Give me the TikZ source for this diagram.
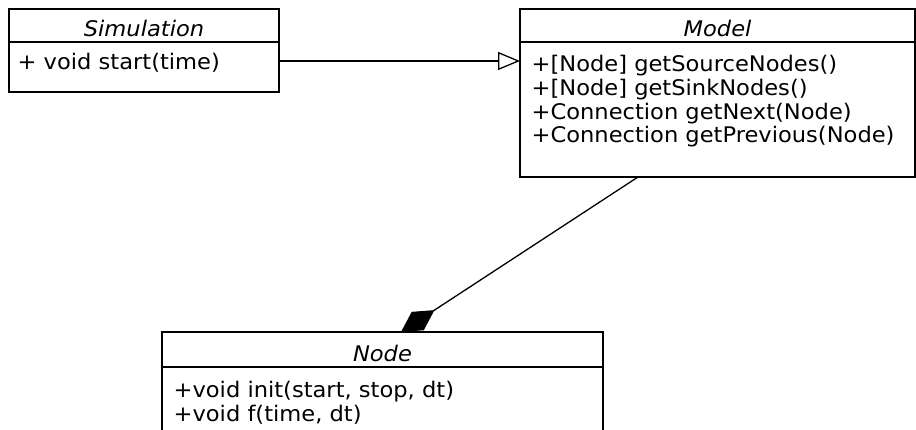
\documentclass[tikz,border=0pt]{standalone}
\usepackage{fontspec}
\setmainfont{DejaVu Sans}[FakeStretch=1.05]
\usetikzlibrary{arrows.meta}

\begin{document}
\begin{tikzpicture}[x=1pt, y=-1pt, line width=1.3pt,
  classbox/.style={draw, anchor=north west, inner sep=0pt, outer sep=0pt},
  member/.style={anchor=base west, inner sep=0pt, font=\fontsize{21.5}{24}\selectfont},
  classname/.style={anchor=base, inner sep=0pt, font=\fontsize{21.5}{24}\selectfont\itshape},
  generalization/.style={-{Triangle[open, length=22pt, width=18pt]}},
  composition/.style={-{Diamond[length=40pt, width=22pt, fill=black]}}]

\useasboundingbox (0,0) rectangle (916,430);
\clip (0,0) rectangle (916,430);

% class boxes
\node[classbox, minimum width=270pt, minimum height=83pt] (sim) at (9,9) {};
\node[classbox, minimum width=395pt, minimum height=168pt] (model) at (520,9) {};
\node[classbox, minimum width=441pt, minimum height=130pt] (node) at (162,332) {};

% compartment separators
\draw (sim.north west |- 0,42) -- (sim.north east |- 0,42);
\draw (model.north west |- 0,42) -- (model.north east |- 0,42);
\draw (node.north west |- 0,367) -- (node.north east |- 0,367);

% class names
\node[classname] (simname) at (144,37) {Simulation};
\node[classname] (modelname) at (717.5,37) {Model};
\node[classname] (nodename) at (382.5,362) {Node};

% operations
\node[member] (s1) at (17,70) {+ void start(time)};

\node[member] (m1) at (531,72) {+[Node] getSourceNodes()};
\node[member] (m2) at (531,95.7) {+[Node] getSinkNodes()};
\node[member] (m3) at (531,119.3) {+Connection getNext(Node)};
\node[member] (m4) at (531,143) {+Connection getPrevious(Node)};

\node[member] (n1) at (173,397) {+void init(start, stop, dt)};
\node[member] (n2) at (173,421.5) {+void f(time, dt)};

% relations
\coordinate (genfrom) at ([yshift=-10.5pt]sim.east);
\coordinate (comfrom) at ([xshift=-79.5pt]model.south);
\coordinate (comto) at ([xshift=18.5pt]node.north);
\draw[generalization] (genfrom) -- (genfrom -| model.west);
\draw[composition] (comfrom) -- (comto);
\end{tikzpicture}
\end{document}
